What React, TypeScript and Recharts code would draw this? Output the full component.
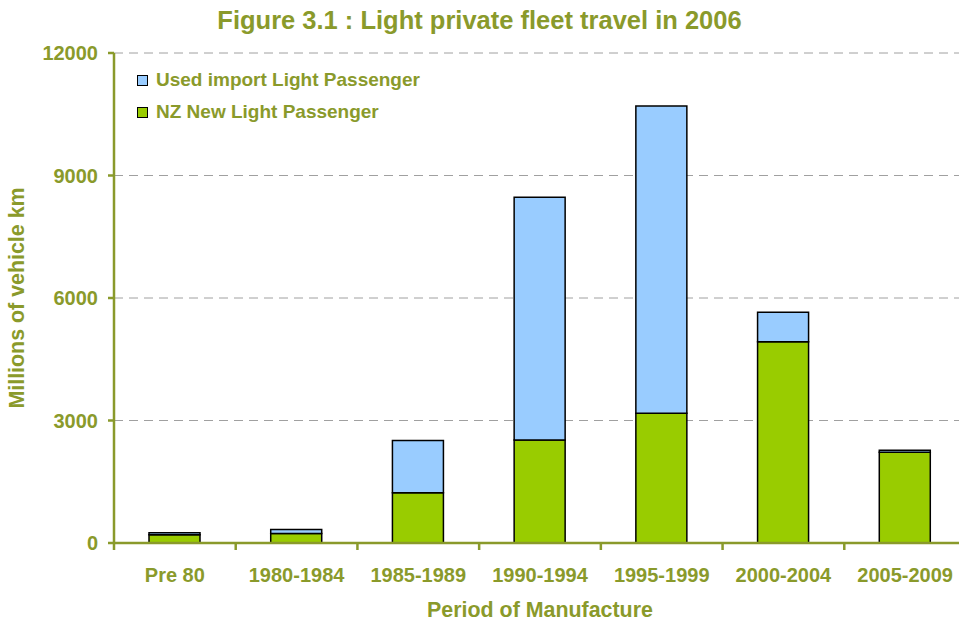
import React from 'react';
import { BarChart, Bar, XAxis, YAxis, CartesianGrid, Legend } from 'recharts';

const categories = ['Pre 80', '1980-1984', '1985-1989', '1990-1994', '1995-1999', '2000-2004', '2005-2009'];
const nzNew = [200, 230, 1230, 2520, 3180, 4930, 2220];
const usedImport = [50, 100, 1280, 5950, 7520, 720, 50];
const yTicks = [0, 3000, 6000, 9000, 12000];

const data = categories.map((c, i) => ({ period: c, nzNew: nzNew[i], usedImport: usedImport[i] }));

const OLIVE = '#8A9A2B';
const FONT = '"Liberation Sans", Arial, sans-serif';

const XTick = (props: any) => {
  const { x, y, payload, width, visibleTicksCount } = props;
  const half = payload && typeof payload.offset === 'number' && payload.offset > 0
    ? payload.offset
    : width / (2 * visibleTicksCount);
  const bx = x - half;
  return (
    <g>
      <line x1={bx} y1={y} x2={bx} y2={y + 7} stroke={OLIVE} strokeWidth={2.5} />
      <text x={x} y={y + 38.5} textAnchor="middle" fill={OLIVE} fontFamily={FONT} fontWeight="bold" fontSize={20}>
        {payload.value}
      </text>
    </g>
  );
};

const LegendContent = () => {
  const items = [
    { label: 'Used import Light Passenger', color: '#99CCFF' },
    { label: 'NZ New Light Passenger', color: '#99CC00' },
  ];
  return (
    <div style={{ fontFamily: FONT }}>
      {items.map((it) => (
        <div key={it.label} style={{ display: 'flex', alignItems: 'center', height: 32 }}>
          <span style={{ display: 'inline-block', width: 9, height: 9, background: it.color, border: '1.5px solid #000', marginRight: 8 }} />
          <span style={{ color: OLIVE, fontWeight: 'bold', fontSize: 19 }}>{it.label}</span>
        </div>
      ))}
    </div>
  );
};

export default function App() {
  return (
    <div style={{ position: 'absolute', left: 0, top: 0, width: 959, height: 623, overflow: 'hidden', background: '#fff' }}>
      <div style={{ position: 'absolute', left: 0, top: 8, width: 959, textAlign: 'center', fontFamily: FONT, fontWeight: 'bold', fontSize: 25.5, lineHeight: '25.5px', color: OLIVE }}>
        Figure 3.1 : Light private fleet travel in 2006
      </div>
      <BarChart
        width={980}
        height={623}
        data={data}
        margin={{ top: 53, right: 14, bottom: 0, left: 0 }}
        barSize={51}
        style={{ position: 'absolute', left: 0, top: 0 }}
      >
        <CartesianGrid vertical={false} stroke="#A0A0A0" strokeDasharray="9 6" />
        <XAxis
          dataKey="period"
          height={80}
          axisLine={{ stroke: OLIVE, strokeWidth: 2.5 }}
          tickLine={false}
          tickSize={0}
          tickMargin={0}
          interval={0}
          tick={<XTick />}
          label={{ value: 'Period of Manufacture', position: 'insideBottom', offset: 6.5, fill: OLIVE, fontFamily: FONT, fontWeight: 'bold', fontSize: 21.4 }}
        />
        <YAxis
          width={114}
          domain={[0, 12000]}
          ticks={yTicks}
          interval={0}
          axisLine={{ stroke: OLIVE, strokeWidth: 2.5 }}
          tickLine={{ stroke: OLIVE, strokeWidth: 2.5 }}
          tickSize={6}
          tickMargin={10}
          tick={{ fill: OLIVE, fontFamily: FONT, fontWeight: 'bold', fontSize: 20 }}
          label={{ value: 'Millions of vehicle km', angle: -90, position: 'insideLeft', offset: 16.5, fill: OLIVE, fontFamily: FONT, fontWeight: 'bold', fontSize: 21.4, style: { textAnchor: 'middle' } }}
        />
        <Legend
          layout="horizontal"
          verticalAlign="middle"
          align="center"
          content={<LegendContent />}
          wrapperStyle={{ position: 'absolute', left: 137, top: 64, width: 400, height: 64 }}
        />
        <Bar dataKey="nzNew" stackId="a" fill="#99CC00" stroke="#000" strokeWidth={1.5} isAnimationActive={false} />
        <Bar dataKey="usedImport" stackId="a" fill="#99CCFF" stroke="#000" strokeWidth={1.5} isAnimationActive={false} />
      </BarChart>
    </div>
  );
}
